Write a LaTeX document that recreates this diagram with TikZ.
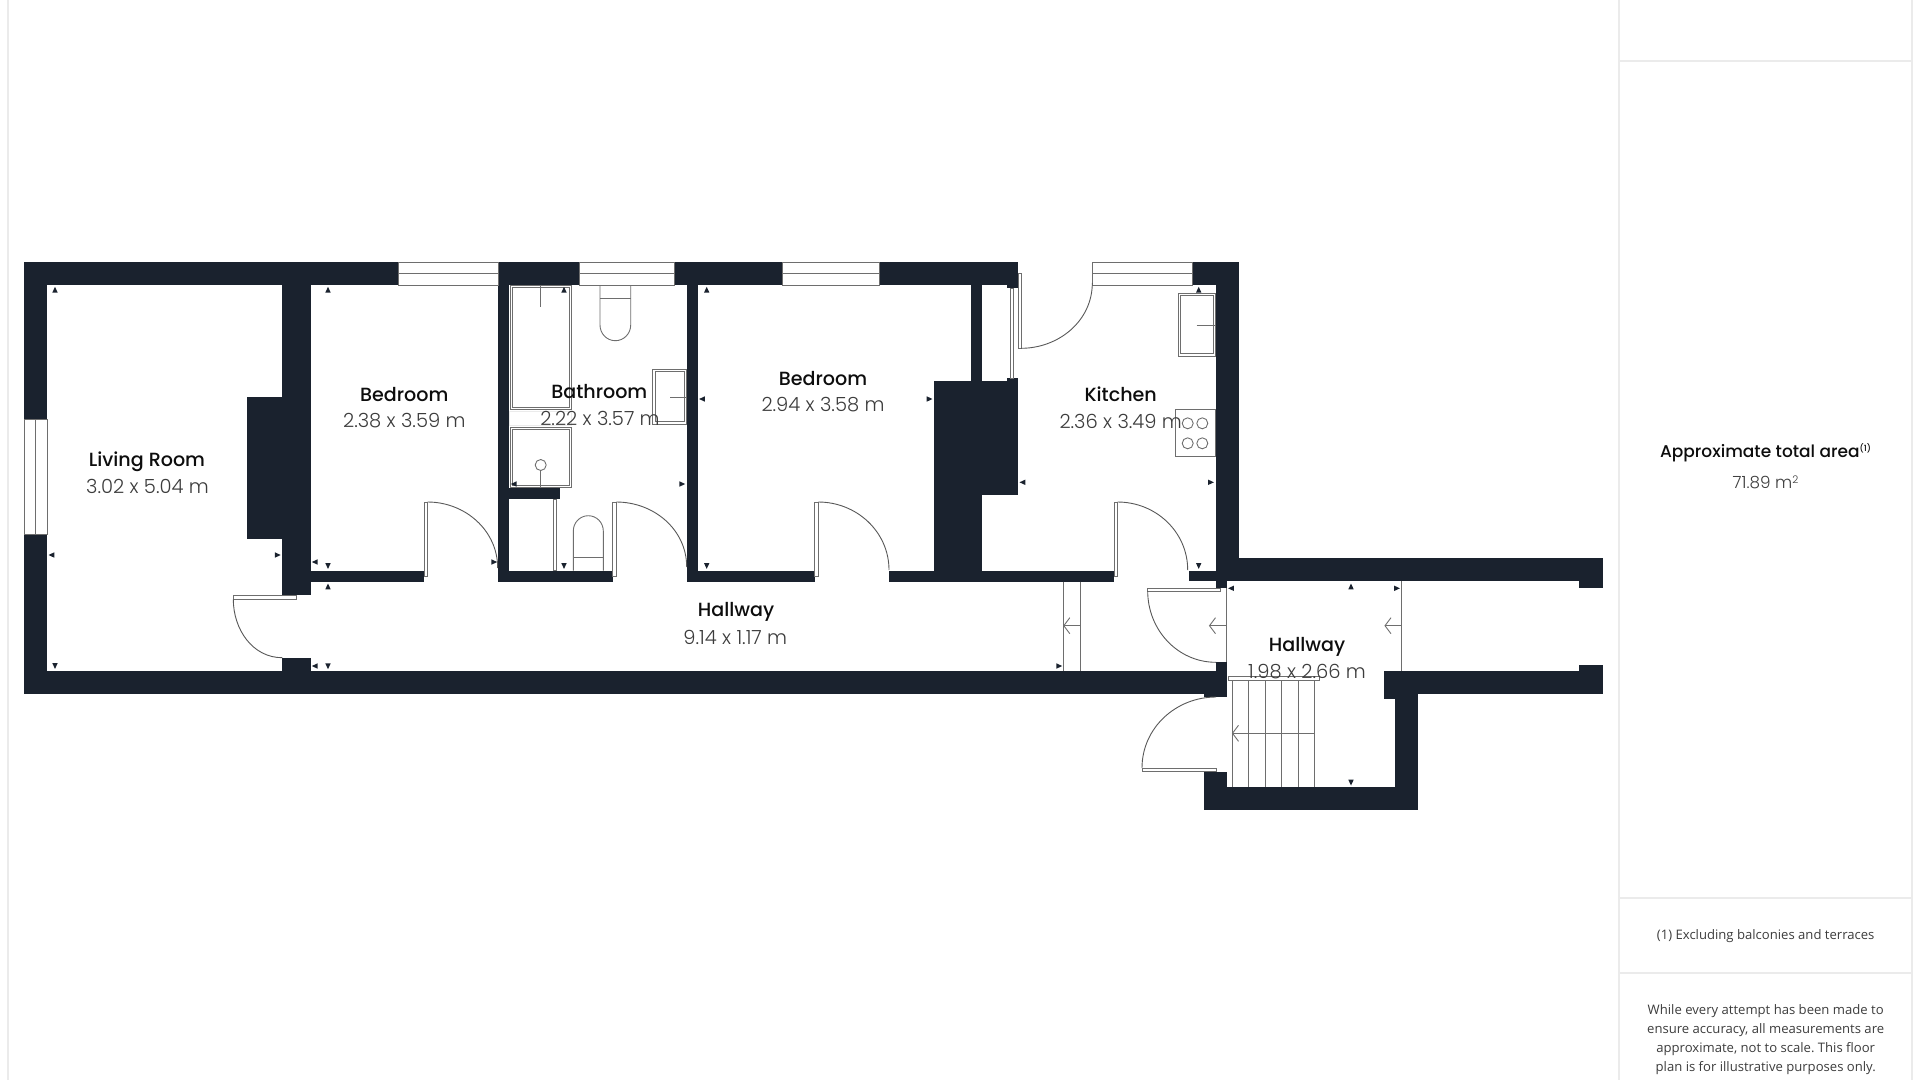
\documentclass[tikz,border=0pt]{standalone}
\usepackage{fontspec}
\setmainfont{Poppins Light}[BoldFont={Poppins Medium}]
\newfontfamily\notefont{Open Sans}
\frenchspacing
\definecolor{wallcol}{HTML}{1A222E}
\definecolor{fixcol}{HTML}{6E6E6E}
\definecolor{panelcol}{HTML}{EBEBEB}
\definecolor{sizecol}{HTML}{3C3C3C}
\tikzset{
  wallfill/.style={fill=wallcol},
  fixture/.style={draw=fixcol, line width=0.9pt},
  swing/.style={draw=fixcol!80!black, line width=0.9pt},
  panelline/.style={draw=panelcol, line width=1.6pt},
  roomname/.style={text=black!95, font=\fontsize{19.1}{22}\selectfont\bfseries},
  roomsize/.style={text=sizecol, font=\fontsize{19.5}{21}\selectfont},
  notetext/.style={text=sizecol, align=center, font=\notefont\fontsize{13.1}{19}\selectfont}
}
\begin{document}
\begin{tikzpicture}[x=1pt, y=-1pt]
    \useasboundingbox (0,0) rectangle (1920,1080);

    % Panel lines
    \draw[panelline] (8,0) -- (8,1080);
    \draw[panelline] (1619,0) -- (1619,1080);
    \draw[panelline] (1912,0) -- (1912,1080);
    \foreach \py in {61,898,973} {
        \draw[panelline] (1619,\py) -- (1912,\py);
    }

    % Walls
    \foreach \xa/\ya/\xb/\yb in {
        24.3/262.3/398.3/285.3, 498.3/262.3/579.3/285.3, 674.3/262.3/782.7/285.3,
        879.7/262.3/1017.7/285.3, 1192.7/262.3/1238.7/285.3,
        24.3/262.3/47/419, 24.3/534.7/47/693.7, 24.3/670.5/1226.5/693.7,
        282.3/285/310.7/594.7, 247/396.7/282.3/539.3, 282.3/657.7/310.7/670.5,
        310.7/570.7/424/581.5, 498.3/285/509.3/581.5, 498.3/570.7/612.7/581.5,
        509/488.3/560/499.3, 687.3/285/697.7/581.5, 687.3/570.7/814.7/581.5,
        889.3/570.7/1113.7/581.5, 934.3/381/981.7/570.7, 934.3/381/1017.7/494.7,
        970.7/285/981.7/381, 1007/285/1017.7/288, 1007/378/1017.7/381,
        1215.7/262.3/1238.7/558.3, 1215.7/558.3/1602.7/581, 1579.3/581/1602.7/588.3,
        1188.8/570.7/1216/581, 1216/581/1226.5/588.3, 1216/662.3/1226.5/670.5,
        1204/693.7/1226.5/697, 1384.3/670.7/1602.7/694, 1579.3/665.3/1602.7/670.7,
        1384.3/694/1395/699, 1395/694/1418.3/809.5, 1203.5/786.7/1418.3/809.5,
        1203.5/772.3/1226.5/786.7} {
        \fill[wallfill] (\xa,\ya) rectangle (\xb,\yb);
    }

    % Windows
    \foreach \xa/\xb in {398.3/498.3, 579.3/674.3, 782.7/879.7, 1092.3/1192.7} {
        \draw[fixture] (\xa,262.3) rectangle (\xb,285.3);
        \draw[fixture] (\xa,273.8) -- (\xb,273.8);
    }
    \draw[fixture] (24.3,419) rectangle (47,534.7);
    \draw[fixture] (35.7,419) -- (35.7,534.7);

    % Doors
    \foreach \xa/\xe/\ye in {424/497.7/568, 612.7/686.7/567, 814.7/889/570, 1114/1187.7/570} {
        \draw[fixture] (\xa,502) rectangle (\xa+3.6,576);
        \draw[swing] (\xa+3.6,502) to[out=0, in=90] (\xe,\ye);
    }
    \draw[fixture] (233.3,595) rectangle (296.7,599.3);
    \draw[swing] (233.3,599.3) to[out=-90, in=180] (282.3,657.7);
    \draw[fixture] (1018,273.3) rectangle (1021,348.3);
    \draw[swing] (1021,348.3) to[out=0, in=-90] (1092.3,283);
    \draw[fixture] (1147.7,588.3) rectangle (1220,591);
    \draw[swing] (1147.7,591) to[out=-90, in=180] (1216,662.3);
    \draw[fixture] (1142,768) rectangle (1216,771);
    \draw[swing] (1142,768) to[out=90, in=180] (1216,697);
    \draw[fixture] (1010.7,288) rectangle (1013.7,378);
    \draw[fixture] (553.3,499.3) rectangle (556.7,570.7);

    % Hallway lines and arrows
    \draw[fixture] (1063.8,581.5) -- (1063.8,670.5);
    \draw[fixture] (1080,581.5) -- (1080,670.5);
    \draw[fixture] (1226.5,588.3) -- (1226.5,662.3);
    \draw[fixture] (1401,581) -- (1401,670.7);
    \foreach \xa/\xb/\py in {1063.8/1080/625.7, 1209.5/1226.5/625.7, 1385/1401/625.7, 1232.5/1314.3/733.3} {
        \draw[fixture] (\xb,\py) -- (\xa,\py);
        \draw[fixture] (\xa+6,\py-8) -- (\xa,\py) -- (\xa+6,\py+8);
    }

    % Stairs
    \draw[fixture] (1228.3,676.5) rectangle (1319.3,680.3);
    \foreach \sx in {1232,1248.7,1265,1281.7,1298,1314.3} {
        \draw[fixture] (\sx,680.3) -- (\sx,786.7);
    }

    % Bath, shower, basin
    \draw[fixture] (510.7,285.7) rectangle (571.7,409);
    \draw[fixture] (512.7,287.7) rectangle (569.7,407);
    \draw[fixture] (540.7,285.7) -- (540.7,306.7);
    \draw[fixture, draw=panelcol] (509.3,411) rectangle (571.7,425.7);
    \draw[fixture] (510.7,427) rectangle (571.7,487.3);
    \draw[fixture] (512.7,429) rectangle (569.7,485.3);
    \draw[fixture] (540.7,465) circle (5.5);
    \draw[fixture] (540.7,470.5) -- (540.7,488);
    \draw[fixture] (652.7,369) rectangle (686.7,424.3);
    \draw[fixture] (655.2,371.5) rectangle (684.7,421.8);
    \draw[fixture] (670,397) -- (686.7,397);

    % Toilets
    \draw[fixture] (600,285.3) -- (600,325) to[out=-90, in=180] (615.3,340.7)
        to[out=0, in=-90] (630.7,325) -- (630.7,285.3);
    \draw[fixture] (600,298.3) -- (630.7,298.3);
    \draw[fixture] (573.3,570.7) -- (573.3,531) to[out=90, in=180] (588.3,515.7)
        to[out=0, in=90] (603.3,531) -- (603.3,570.7);
    \draw[fixture] (573.3,557.3) -- (603.3,557.3);

    % Kitchen
    \draw[fixture] (1178.3,293.3) rectangle (1215.7,356);
    \draw[fixture] (1180.8,295.8) rectangle (1213.7,353.5);
    \draw[fixture] (1196.7,325) -- (1215.7,325);
    \draw[fixture] (1175,409.3) rectangle (1215.7,456.7);
    \foreach \cx in {1187.7,1202.3} {
        \foreach \cy in {423.3,443.3} {
            \draw[fixture] (\cx,\cy) circle (5.5);
        }
    }

    % Size marks: x, y, direction
    \foreach \px/\py/\dx/\dy in {
        55/290/0/-1, 55/665.7/0/1, 51.7/555/-1/0, 277.5/555/1/0,
        328/290/0/-1, 328/565.7/0/1, 315/562/-1/0, 494/562/1/0,
        315/666/-1/0, 328/666/0/1, 328/586.7/0/-1, 1059/666/1/0,
        564/290/0/-1, 564/565.7/0/1, 514/484/-1/0, 682/484/1/0,
        706.7/290/0/-1, 706.7/565.7/0/1, 702.3/399/-1/0, 929.3/399/1/0,
        1198.7/290/0/-1, 1198.7/565.7/0/1, 1022.7/482.3/-1/0, 1210.7/482.3/1/0,
        1231.3/588.3/-1/0, 1396.7/588.3/1/0, 1351/586.7/0/-1, 1351/782.3/0/1} {
        \fill[wallcol] ({\px+\dx*3.2},{\py+\dy*3.2})
            -- ({\px-\dx*2.6+\dy*2.7},{\py-\dy*2.6+\dx*2.7})
            -- ({\px-\dx*2.6-\dy*2.7},{\py-\dy*2.6-\dx*2.7}) -- cycle;
    }

    % Room labels
    \node[roomname] (living) at (147,461.7) {Living Room};
    \node[roomsize] (livingsize) at (147.5,486.7) {3.02 x 5.04 m};
    \node[roomname] (bedone) at (404.3,395) {Bedroom};
    \node[roomsize] (bedonesize) at (404.3,420.5) {2.38 x 3.59 m};
    \node[roomname] (bath) at (599.3,392) {Bathroom};
    \node[roomsize] (bathsize) at (600,418.5) {2.22 x 3.57 m};
    \node[roomname] (bedtwo) at (823,379) {Bedroom};
    \node[roomsize] (bedtwosize) at (823,404.5) {2.94 x 3.58 m};
    \node[roomname] (kitchen) at (1120.7,394.4) {Kitchen};
    \node[roomsize] (kitchensize) at (1120.7,421) {2.36 x 3.49 m};
    \node[roomname] (hall) at (736,611.5) {Hallway};
    \node[roomsize] (hallsize) at (735.3,637) {9.14 x 1.17 m};
    \node[roomname] (entry) at (1307,646.5) {Hallway};
    \node[roomsize] (entrysize) at (1307,671.5) {1.98 x 2.66 m};

    % Side panel
    \node[roomname, font=\fontsize{17}{20}\selectfont\bfseries] (area) at (1765.5,452.8) {Approximate total area\raisebox{5.5pt}{\fontsize{8.5}{9}\selectfont (1)}};
    \node[roomsize, font=\fontsize{16.8}{18}\selectfont] (areasize) at (1765.5,482.8) {71.89 m\raisebox{5pt}{\fontsize{10.5}{9}\selectfont 2}};
    \node[notetext] (footone) at (1765.7,936) {(1) Excluding balconies and terraces};
    \node[notetext] (foottwo) at (1765.7,1039.8) {While every attempt has been made to\\ensure accuracy, all measurements are\\approximate, not to scale. This floor\\plan is for illustrative purposes only.};
\end{tikzpicture}
\end{document}
